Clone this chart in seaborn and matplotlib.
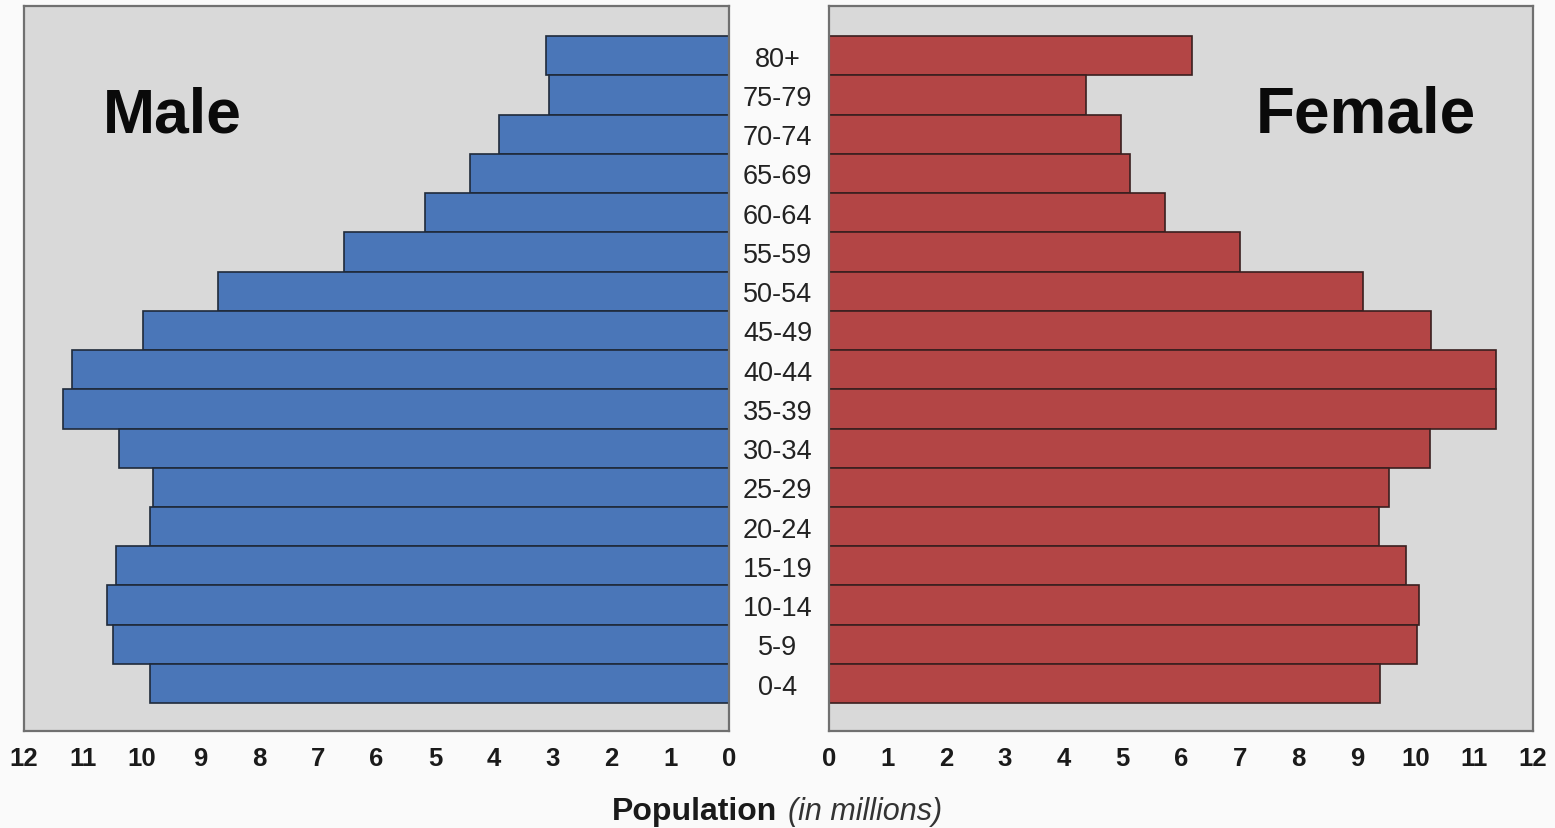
import numpy as np
import pandas as pd
import seaborn as sns
import matplotlib.pyplot as plt

# age groups listed from the top of the pyramid down
ages = ['80+', '75-79', '70-74', '65-69', '60-64', '55-59', '50-54', '45-49', '40-44',
        '35-39', '30-34', '25-29', '20-24', '15-19', '10-14', '5-9', '0-4']
# population in millions
male = [3.12, 3.07, 3.91, 4.40, 5.17, 6.55, 8.70, 9.97, 11.19,
        11.33, 10.39, 9.80, 9.85, 10.43, 10.58, 10.49, 9.86]
female = [6.18, 4.39, 4.97, 5.14, 5.72, 7.01, 9.10, 10.27, 11.37,
          11.37, 10.24, 9.54, 9.37, 9.83, 10.05, 10.02, 9.40]
ticks = list(range(0, 13))

df = pd.DataFrame({'age': ages, 'male': male, 'female': female})

sns.set_style('white')
plt.rcParams['font.family'] = ['Liberation Sans', 'DejaVu Sans']

fig = plt.figure(figsize=(15.55, 8.29), dpi=100, facecolor='#fafafa')
ax_m = fig.add_axes([0.0154, 0.117, 0.4534, 0.8746])
ax_f = fig.add_axes([0.5331, 0.117, 0.4527, 0.8746])

sns.barplot(data=df, x='male', y='age', order=ages, color='#4a76b8', width=1.0,
            edgecolor='#1f2a3a', linewidth=1.2, saturation=1, ax=ax_m)
sns.barplot(data=df, x='female', y='age', order=ages, color='#b34545', width=1.0,
            edgecolor='#3a1f1f', linewidth=1.2, saturation=1, ax=ax_f)

for ax in (ax_m, ax_f):
    ax.set_facecolor('#d9d9d9')
    ax.set_ylim(17.21, -1.27)
    ax.set_xticks(ticks)
    ax.set_xticklabels([str(t) for t in ticks], fontsize=18.5, fontweight='bold', color='#1a1a1a')
    ax.tick_params(axis='x', length=0, pad=11)
    ax.set_xlabel('')
    ax.set_ylabel('')
    for s in ax.spines.values():
        s.set_color('#707070')
        s.set_linewidth(1.6)

ax_m.set_xlim(12, 0)
ax_m.set_yticks([])
ax_f.set_xlim(0, 12)
ax_f.tick_params(axis='y', length=0, pad=37)
for lbl in ax_f.get_yticklabels():
    lbl.set_ha('center')
    lbl.set_fontsize(19.5)
    lbl.set_color('#222222')

ax_m.text(0.21, 0.85, 'Male', transform=ax_m.transAxes, fontsize=45, fontweight='bold',
          ha='center', va='center', color='#0a0a0a')
ax_f.text(0.762, 0.85, 'Female', transform=ax_f.transAxes, fontsize=46, fontweight='bold',
          ha='center', va='center', color='#0a0a0a')

fig.text(0.4995, 0.021, 'Population', fontsize=23, fontweight='bold', ha='right', va='center',
         color='#1a1a1a')
fig.text(0.507, 0.021, '(in millions)', fontsize=22, fontstyle='italic', ha='left', va='center',
         color='#333333')

fig.savefig('out.png', dpi=100, facecolor=fig.get_facecolor())
